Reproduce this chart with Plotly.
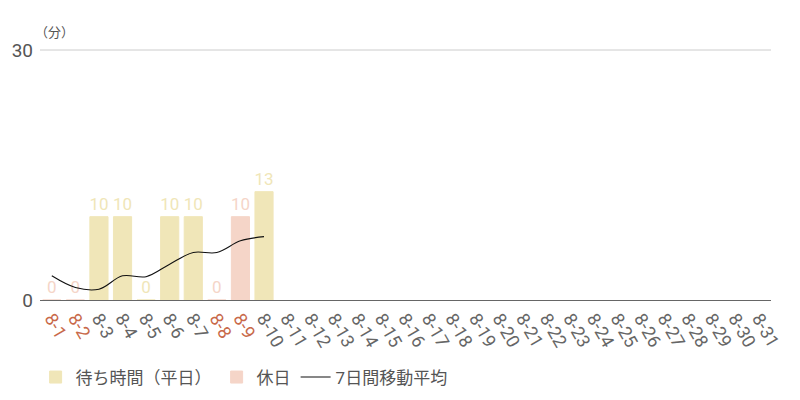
import plotly.graph_objects as go

dates = [f"8-{d}" for d in range(1, 32)]
weekday_vals = [None, None, 10, 10, 0, 10, 10, None, None, 13] + [None] * 21
holiday_vals = [0, 0, None, None, None, None, None, 0, 10, None] + [None] * 21
avg_vals = [2.9, 1.5, 1.3, 2.9, 2.8, 4.3, 5.7, 5.7, 7.1, 7.6] + [None] * 21
holidays = {"8-1", "8-2", "8-8", "8-9"}

ticktext = [f"<span style='color:#C8694A'>{d}</span>" if d in holidays else d for d in dates]

WD = "#F0E6B8"
HD = "#F5D5C8"
label_font = dict(family="Roboto", size=17)

fig = go.Figure()
fig.add_trace(go.Bar(
    x=dates, y=weekday_vals, name="待ち時間（平日）", marker_color=WD,
    marker_line=dict(color=WD, width=1),
    text=[("" if v is None else str(v)) for v in weekday_vals],
    textposition="outside", textfont=dict(color=WD, **label_font),
    constraintext="none", textangle=0, cliponaxis=False,
))
fig.add_trace(go.Bar(
    x=dates, y=holiday_vals, name="休日", marker_color=HD,
    marker_line=dict(color=HD, width=1),
    text=[("" if v is None else str(v)) for v in holiday_vals],
    textposition="outside", textfont=dict(color=HD, **label_font),
    constraintext="none", textangle=0, cliponaxis=False,
))
fig.add_trace(go.Scatter(
    x=dates, y=avg_vals, name="7日間移動平均", mode="lines",
    line=dict(color="#111111", width=1.1, shape="spline"),
))

fig.update_layout(
    width=792, height=392,
    margin=dict(l=32, r=29, t=42, b=100, autoexpand=False),
    barmode="overlay", bargap=0.23,
    plot_bgcolor="white", paper_bgcolor="white",
    font=dict(family="Roboto, Noto Sans CJK JP", color="#555555", size=15),
    showlegend=True,
    legend=dict(orientation="h", x=-0.006, y=-0.31, xanchor="left", yanchor="middle",
                font=dict(size=17, color="#555555"), itemwidth=30, traceorder="normal"),
    xaxis=dict(
        type="category", categoryorder="array", categoryarray=dates,
        tickmode="array", tickvals=dates, ticktext=ticktext,
        tickangle=60, tickfont=dict(size=18, color="#666666"),
        showline=True, linecolor="#666666", linewidth=1, showgrid=False,
        ticks="", range=[-0.5, 30.5], automargin=False,
    ),
    yaxis=dict(
        range=[0, 30], tickvals=[0, 30], showgrid=False,
        zeroline=False, tickfont=dict(size=19, color="#555555"), ticks="",
        automargin=False, ticklabelstandoff=6,
    ),
    shapes=[dict(type="line", xref="paper", yref="paper", x0=0, x1=1, y0=1, y1=1,
                 line=dict(color="#cccccc", width=1), layer="below")],
    annotations=[dict(text="（分）", xref="paper", yref="paper", x=0.02, y=1.0,
                      xanchor="center", yanchor="middle", showarrow=False,
                      yshift=18, font=dict(size=13, color="#555555"))],
)

fig.write_html("out.html")
